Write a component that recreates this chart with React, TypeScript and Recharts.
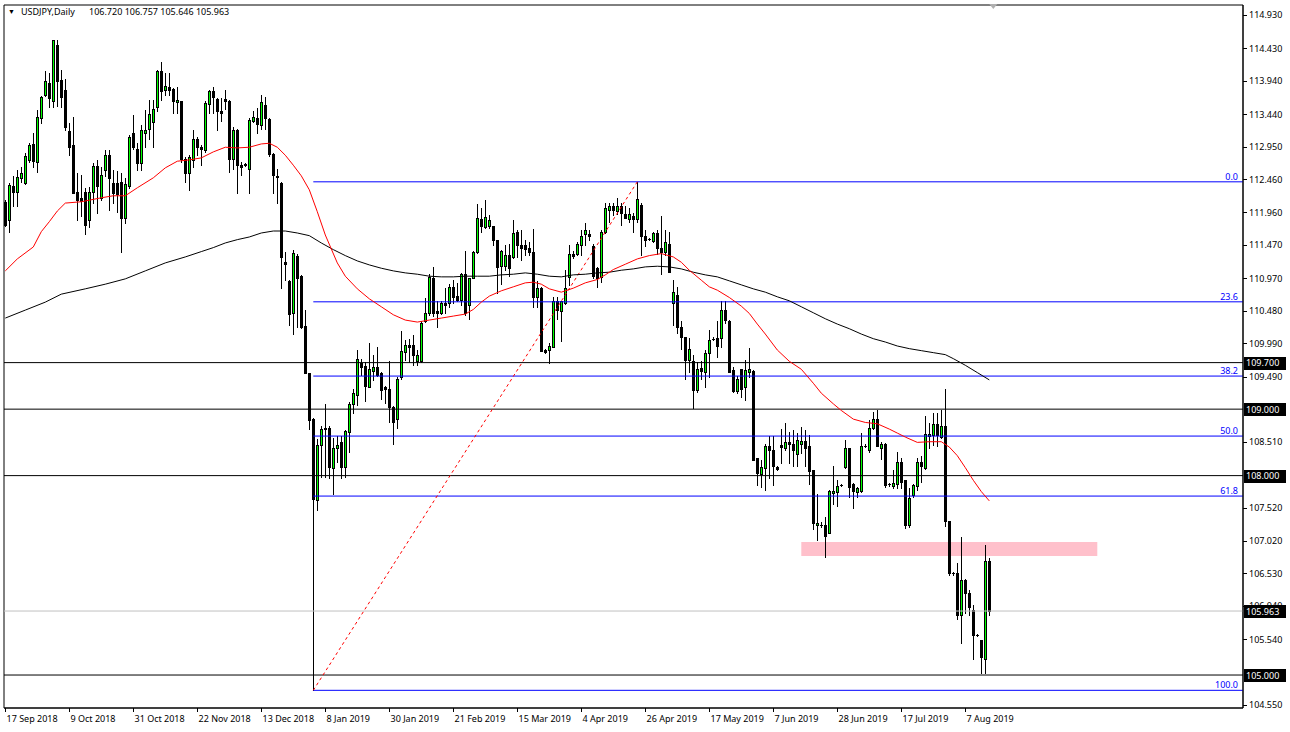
import React from 'react';
import { ComposedChart, Bar, Line, XAxis, YAxis, ReferenceLine, ReferenceArea, ReferenceDot } from 'recharts';

const FONT = "'Noto Sans', 'Liberation Sans', sans-serif";

// ---- daily candles (USDJPY) ----
const opens = [
  112.12,111.85,112.36,112.27,112.47,112.40,112.75,112.99,112.72,113.38,
  113.72,113.90,113.63,114.48,113.95,113.80,113.19,112.97,112.27,112.18,
  112.26,111.85,112.27,112.66,112.17,112.60,112.82,112.40,112.40,112.41,
  111.87,112.35,113.16,112.92,112.71,113.16,113.21,113.32,113.55,114.08,
  113.80,113.85,113.81,113.62,113.63,112.76,112.55,112.75,113.06,112.94,
  112.90,113.59,113.78,113.66,113.49,113.67,113.64,112.76,113.20,112.67,
  112.69,112.61,113.34,113.38,113.28,113.58,113.36,112.84,112.51,112.40,
  111.22,110.93,110.45,111.30,111.00,110.25,109.54,108.85,107.63,108.46,
  108.72,108.71,108.11,108.41,108.51,108.13,108.66,109.08,109.21,109.70,
  109.65,109.34,109.58,109.63,109.54,109.33,109.30,109.03,108.85,109.49,
  109.86,109.96,109.96,109.73,109.73,110.33,110.44,110.98,110.48,110.44,
  110.59,110.59,110.84,110.70,110.64,111.04,110.57,110.98,111.37,111.86,
  111.74,111.75,111.75,111.54,111.15,111.15,111.32,111.29,111.67,111.47,
  111.47,111.43,111.36,110.68,110.82,109.89,109.89,109.94,110.62,110.47,
  110.59,110.99,111.34,111.33,111.47,111.63,111.64,111.45,111.12,110.99,
  111.66,112.00,112.05,111.98,112.06,111.93,111.86,111.91,111.86,112.07,
  111.61,111.56,111.53,111.65,111.42,111.37,111.49,110.59,110.72,110.23,
  110.08,109.74,109.72,109.29,109.62,109.56,109.84,110.06,110.07,110.07,
  110.49,110.33,109.59,109.28,109.60,109.34,109.56,109.58,108.26,108.03,
  108.12,108.45,108.38,108.13,108.46,108.41,108.51,108.48,108.32,108.47,
  108.52,108.44,108.08,107.25,107.26,107.26,107.14,107.74,107.76,107.86,
  108.13,108.41,107.87,107.76,107.77,108.45,108.38,108.71,108.85,108.41,
  108.48,107.87,107.85,107.88,108.21,107.94,107.26,107.71,107.85,108.20,
  108.11,108.60,108.61,108.78,108.58,108.75,107.31,106.53,106.53,105.90,
  106.43,106.23,105.98,105.60,105.53,105.24,106.72,
];
const highs = [
  112.15,112.40,112.50,112.60,112.65,112.86,113.00,113.16,113.50,113.71,
  114.09,114.05,114.56,114.56,114.10,113.96,113.30,113.40,112.55,112.52,
  112.32,112.34,112.70,112.75,112.64,112.90,112.90,112.60,112.58,112.55,
  112.47,113.12,113.43,113.00,113.28,113.50,113.65,113.65,114.10,114.23,
  114.05,114.05,113.83,113.84,113.63,112.80,112.82,113.20,113.10,112.97,
  113.63,113.80,113.85,113.68,113.68,113.80,113.65,113.24,113.21,112.72,
  112.70,113.38,113.48,113.53,113.73,113.70,113.38,112.85,112.62,112.42,
  111.37,110.94,111.40,111.34,111.02,110.49,109.54,108.86,108.55,108.74,
  109.08,108.74,108.56,108.60,108.59,108.69,109.10,109.31,109.89,109.76,
  109.71,109.99,109.81,109.94,109.56,109.35,109.73,109.05,109.49,110.17,
  110.04,110.05,110.12,109.89,110.32,110.67,111.04,111.14,110.62,110.62,
  110.82,110.89,110.94,110.90,111.05,111.38,110.98,111.38,112.09,112.02,
  112.15,111.92,111.76,111.55,111.39,111.47,111.49,111.85,111.70,111.70,
  111.55,111.52,111.71,110.93,110.84,109.90,109.99,110.69,110.68,110.62,
  111.09,111.47,111.38,111.52,111.70,111.80,111.70,111.49,111.14,111.70,
  112.10,112.10,112.10,112.17,112.10,112.05,112.02,111.95,112.41,112.10,
  111.70,111.58,111.66,111.70,111.90,111.70,111.67,110.94,110.84,110.32,
  110.09,110.07,109.81,109.71,109.72,109.89,110.19,110.08,110.32,110.62,
  110.62,110.34,109.64,109.50,109.61,109.74,109.92,109.59,108.26,108.24,
  108.48,108.59,108.59,108.15,108.70,108.79,108.66,108.69,108.64,108.73,
  108.69,108.61,108.08,107.73,107.30,107.38,107.79,108.15,107.93,107.88,
  108.53,108.41,107.89,107.83,108.64,108.47,108.83,108.96,108.99,108.50,
  108.49,107.89,108.08,108.36,108.26,107.94,107.82,107.88,108.26,108.30,
  108.89,108.79,108.94,108.94,108.99,109.31,107.31,106.55,106.68,107.08,
  106.44,106.28,106.05,105.62,105.53,106.96,106.757,
];
const lows = [
  111.75,111.67,112.05,112.05,112.42,112.38,112.72,112.64,112.57,113.30,
  113.71,113.54,113.54,113.56,113.55,113.20,112.82,112.25,111.85,111.90,
  111.63,111.74,112.10,111.95,112.15,112.50,112.00,112.10,111.97,111.37,
  111.80,112.32,112.91,112.60,112.60,112.95,113.07,112.95,113.48,113.65,
  113.72,113.72,113.45,113.45,112.72,112.42,112.30,112.65,112.82,112.67,
  112.87,113.45,113.45,113.20,113.33,113.51,112.57,112.62,112.25,112.52,
  112.66,112.25,113.32,113.15,113.21,113.22,112.81,112.25,112.10,110.82,
  110.94,110.27,110.13,110.23,110.22,109.54,108.70,104.77,107.48,107.98,
  107.98,107.96,107.73,108.21,107.96,107.98,108.36,108.94,109.06,109.51,
  109.13,109.33,109.44,109.50,109.15,109.09,108.81,108.48,108.71,109.46,
  109.74,109.71,109.66,109.66,109.71,110.31,110.42,110.40,110.23,110.43,
  110.45,110.54,110.59,110.62,110.57,110.42,110.35,110.97,111.35,111.67,
  111.72,111.73,111.47,110.74,110.89,111.09,111.00,111.27,111.29,111.25,
  111.32,111.32,110.53,110.54,109.87,109.84,109.69,109.93,110.36,110.02,
  110.58,110.87,111.28,111.32,111.32,111.47,111.55,110.97,110.84,110.92,
  111.65,111.82,111.92,111.93,111.77,111.87,111.82,111.67,111.82,111.32,
  111.45,111.54,111.52,111.34,111.04,111.32,111.07,110.27,110.15,109.90,
  109.46,109.56,109.01,109.26,109.45,109.34,109.49,110.04,109.79,109.94,
  110.29,109.56,109.26,109.25,109.19,109.14,109.49,108.23,107.86,107.83,
  107.79,107.96,107.86,108.08,108.19,108.39,108.19,108.14,108.14,108.34,
  108.14,107.88,107.19,107.03,107.22,106.78,107.13,107.58,107.54,107.84,
  108.11,107.68,107.52,107.68,107.76,108.43,108.36,108.70,108.45,108.25,
  107.83,107.85,107.82,107.82,107.81,107.21,107.23,107.68,107.79,107.91,
  108.10,108.41,108.46,108.44,108.56,107.24,106.50,106.51,105.85,105.48,
  105.93,105.90,105.24,105.58,105.03,105.03,105.90,
];
const closes = [
  111.77,112.37,112.26,112.49,112.56,112.81,112.98,112.74,113.39,113.70,
  113.94,113.68,114.55,113.94,113.70,113.24,112.95,112.25,112.15,112.13,
  111.77,112.26,112.66,112.35,112.52,112.82,112.47,112.25,112.24,111.87,
  112.38,113.09,112.94,112.71,113.20,113.20,113.44,113.51,114.09,113.78,
  113.86,113.80,113.63,113.65,112.77,112.56,112.80,113.06,112.94,112.92,
  113.60,113.78,113.69,113.49,113.46,113.64,112.77,113.20,112.67,112.65,
  112.68,113.35,113.39,113.29,113.62,113.38,112.84,112.52,112.49,111.29,
  111.19,110.43,111.35,110.98,110.23,109.54,108.84,107.65,108.46,108.70,
  108.70,108.13,108.41,108.46,108.13,108.67,109.08,109.25,109.75,109.64,
  109.35,109.60,109.63,109.51,109.29,109.31,109.03,108.81,109.46,109.88,
  109.96,109.94,109.81,109.81,110.30,110.45,110.99,110.44,110.44,110.59,
  110.57,110.84,110.69,110.64,111.04,110.44,110.97,111.37,111.87,111.76,
  111.89,111.85,111.55,111.14,111.38,111.32,111.12,111.65,111.47,111.43,
  111.41,111.36,110.68,110.82,109.87,109.86,109.95,110.62,110.49,110.62,
  110.82,111.34,111.31,111.49,111.60,111.70,111.60,111.00,110.98,111.66,
  112.02,112.05,112.00,112.05,111.95,111.88,111.93,111.86,112.16,111.60,
  111.55,111.56,111.65,111.42,111.37,111.51,111.07,110.76,110.23,110.09,
  109.74,109.90,109.29,109.60,109.58,109.84,110.04,110.06,109.95,110.49,
  110.34,109.56,109.28,109.46,109.31,109.59,109.61,108.24,108.04,108.13,
  108.45,108.38,108.14,108.10,108.43,108.51,108.48,108.38,108.54,108.52,
  108.41,108.07,107.28,107.28,107.26,107.09,107.77,107.77,107.84,107.86,
  108.41,107.83,107.77,107.81,108.45,108.45,108.71,108.85,108.45,108.48,
  107.86,107.87,107.89,108.21,107.91,107.26,107.67,107.86,108.21,108.15,
  108.63,108.63,108.78,108.61,108.75,107.31,106.53,106.53,105.90,106.43,
  106.23,106.03,105.60,105.60,105.27,106.71,105.963,
];

// ---- moving averages (bar index, price) ----
const maFastIdx = [0,3,7,9,11,13,15,19,24,27,30,33,37,40,43,46,49,52,55,58,61,64,66,68,70,72,74,76,78,80,83,85,88,91,94,97,100,103,106,109,112,115,117,119,121,124,127,130,132,134,136,139,142,145,148,150,152,155,158,161,164,167,169,171,174,176,178,181,184,186,188,190,193,196,199,202,204,207,209,212,215,218,221,223,225,228,231,234,236,238,240,242,244,246];
const maFastVal = [111.08,111.26,111.44,111.67,111.82,111.98,112.10,112.12,112.18,112.21,112.21,112.33,112.48,112.63,112.73,112.75,112.78,112.87,112.94,112.93,112.94,112.99,113.00,112.94,112.82,112.67,112.51,112.30,111.97,111.62,111.20,111.00,110.81,110.66,110.54,110.42,110.34,110.31,110.34,110.37,110.40,110.43,110.50,110.61,110.70,110.78,110.84,110.90,110.91,110.88,110.81,110.76,110.82,110.90,110.95,111.02,111.10,111.18,111.26,111.31,111.34,111.29,111.21,111.09,110.94,110.84,110.79,110.68,110.55,110.44,110.28,110.13,109.89,109.72,109.60,109.39,109.24,109.08,108.98,108.85,108.80,108.78,108.70,108.64,108.58,108.50,108.51,108.51,108.43,108.30,108.12,107.93,107.76,107.62];
const maSlowIdx = [0,5,10,14,20,25,30,35,40,45,49,52,55,58,61,64,67,70,73,76,79,82,85,88,91,94,97,100,103,106,109,112,115,118,121,124,127,130,133,136,139,142,145,148,151,154,157,160,163,166,169,172,175,178,181,184,187,190,193,196,199,202,205,208,211,214,217,220,223,226,229,232,235,237,240,243,246];
const maSlowVal = [110.37,110.49,110.61,110.73,110.81,110.88,110.96,111.08,111.20,111.29,111.37,111.43,111.50,111.55,111.59,111.65,111.68,111.68,111.65,111.61,111.50,111.40,111.31,111.23,111.17,111.12,111.08,111.05,111.03,111.00,110.99,110.99,111.00,111.00,111.00,111.02,111.03,111.05,111.03,111.00,110.99,111.02,111.03,111.05,111.06,111.09,111.11,111.14,111.15,111.14,111.11,111.06,111.02,110.99,110.93,110.87,110.81,110.76,110.69,110.63,110.54,110.45,110.36,110.28,110.21,110.13,110.06,110.01,109.95,109.91,109.88,109.85,109.82,109.76,109.66,109.55,109.44];

// ---- axes ----
const dateTickIdx = [0,16,32,48,64,80,96,112,128,144,160,176,192,208,224,240];
const dateLabels = ['17 Sep 2018','9 Oct 2018','31 Oct 2018','22 Nov 2018','13 Dec 2018','8 Jan 2019','30 Jan 2019','21 Feb 2019','15 Mar 2019','4 Apr 2019','26 Apr 2019','17 May 2019','7 Jun 2019','28 Jun 2019','17 Jul 2019','7 Aug 2019'];
const priceTicks = [114.93,114.43,113.94,113.44,112.95,112.46,111.96,111.47,110.97,110.48,109.99,109.49,108.51,107.52,107.02,106.53,106.04,105.54,104.55];
const levelLines = [109.7, 109.0, 108.0, 105.0];
const lastPrice = 105.963;

// ---- drawing objects ----
const fibLevels = [0.0, 23.6, 38.2, 50.0, 61.8, 100.0];
const fibLowIdx = 77;
const fibHighIdx = 158;
const fibLow = 104.77;
const fibHigh = 112.42;
const zoneIdx = [199, 273];
const zonePrice = [106.79, 107.0];

const X_MIN = -0.325;
const X_MAX = 309.425;
const Y_MIN = 104.504;
const Y_MAX = 115.08;

const candleData = opens.map((o, i) => ({ i, open: o, high: highs[i], low: lows[i], close: closes[i] }));
const maFastData = maFastIdx.map((i, k) => ({ i, v: maFastVal[k] }));
const maSlowData = maSlowIdx.map((i, k) => ({ i, v: maSlowVal[k] }));
const fibPrices = fibLevels.map((l) => fibHigh - ((fibHigh - fibLow) * l) / 100);
const boxed = [...levelLines, lastPrice];

const CandleShape = (props: any) => {
  const { x, y, width, height, payload } = props;
  if (x == null || y == null || !payload) return null;
  const { open, close, high, low } = payload;
  const yTop = Math.min(y, y + height);
  const yBot = Math.max(y, y + height);
  const span = high - low;
  const py = (p: number) => (span > 0 ? yTop + ((high - p) / span) * (yBot - yTop) : yTop);
  const cx = Math.floor(x + width / 2) + 0.5;
  const top = Math.round(yTop);
  const bot = Math.round(yBot);
  const oY = Math.round(py(open));
  const cY = Math.round(py(close));
  const bT = Math.min(oY, cY);
  const bB = Math.max(oY, cY);
  const bull = close > open;
  return (
    <g shapeRendering="crispEdges">
      <line x1={cx} x2={cx} y1={top} y2={bot + 1} stroke="#000" strokeWidth={1} />
      {bB - bT < 1 ? (
        <line x1={cx - 1.5} x2={cx + 1.5} y1={bT + 0.5} y2={bT + 0.5} stroke="#000" strokeWidth={1} />
      ) : bull ? (
        <rect x={cx - 1} y={bT + 0.5} width={2} height={bB - bT} fill="#00ff00" stroke="#000" strokeWidth={1} />
      ) : (
        <rect x={cx - 1.5} y={bT} width={3} height={bB - bT + 1} fill="#000" />
      )}
    </g>
  );
};

const DateTick = (props: any) => {
  const { x, y, payload } = props;
  const k = dateTickIdx.indexOf(payload.value);
  if (k < 0) return null;
  const px = Math.floor(x) + 0.5;
  return (
    <g>
      <line x1={px} x2={px} y1={y} y2={y + 4} stroke="#000" strokeWidth={1} shapeRendering="crispEdges" />
      <text x={px + 1} y={y + 14} fontFamily={FONT} fontSize={9} fill="#000" textAnchor="start">
        {dateLabels[k]}
      </text>
    </g>
  );
};

const PriceTick = (props: any) => {
  const { x, y, payload } = props;
  const v = payload.value;
  const isBox = boxed.some((b) => Math.abs(b - v) < 1e-6);
  const yy = Math.round(y) + 0.5;
  if (isBox) {
    return (
      <g>
        <rect x={x + 1} y={Math.round(y) - 6} width={42} height={13} fill="#000" />
        <text x={x + 3} y={y + 3.5} fontFamily={FONT} fontSize={9} fill="#fff" textAnchor="start">
          {v.toFixed(3)}
        </text>
      </g>
    );
  }
  return (
    <g>
      <line x1={x} x2={x + 4} y1={yy} y2={yy} stroke="#000" strokeWidth={1} shapeRendering="crispEdges" />
      <text x={x + 6} y={y + 3.5} fontFamily={FONT} fontSize={9} fill="#000" textAnchor="start">
        {v.toFixed(3)}
      </text>
    </g>
  );
};

const FibLabel = (text: string) => (p: any) => (
  <text x={p.cx - 3} y={p.cy - 2} fontFamily={FONT} fontSize={9} fill="#0000ff" textAnchor="end">
    {text}
  </text>
);

const ShiftMarker = (p: any) => (
  <polygon points={`${p.cx - 4},${p.cy - 1} ${p.cx + 4},${p.cy - 1} ${p.cx},${p.cy + 4}`} fill="#b0b0b0" />
);

export default function App() {
  return (
    <div style={{ position: 'absolute', left: 0, top: 0, width: 1290, height: 732, background: '#fff', overflow: 'hidden' }}>
      <ComposedChart
        width={1290}
        height={732}
        data={candleData}
        margin={{ top: 5, right: 0, bottom: 0, left: 4 }}
      >
        <XAxis
          type="number"
          dataKey="i"
          domain={[X_MIN, X_MAX]}
          allowDataOverflow
          ticks={dateTickIdx}
          interval={0}
          tick={(p: any) => <DateTick {...p} />}
          tickLine={false}
          tickSize={0}
          tickMargin={0}
          axisLine={{ stroke: '#000' }}
          height={24}
        />
        <YAxis
          orientation="right"
          type="number"
          domain={[Y_MIN, Y_MAX]}
          allowDataOverflow
          ticks={[...priceTicks, ...boxed]}
          interval={0}
          tick={(p: any) => <PriceTick {...p} />}
          tickLine={false}
          tickSize={0}
          tickMargin={0}
          axisLine={{ stroke: '#000' }}
          width={47}
        />
        <ReferenceArea x1={X_MIN} x2={X_MAX} y1={Y_MIN} y2={Y_MAX} fill="none" stroke="#000" strokeWidth={1} />
        <ReferenceArea x1={zoneIdx[0]} x2={zoneIdx[1]} y1={zonePrice[0]} y2={zonePrice[1]} fill="#ffc0cb" fillOpacity={1} stroke="none" />
        <ReferenceLine y={lastPrice} stroke="#c0c0c0" strokeWidth={1} />
        {levelLines.map((v) => (
          <ReferenceLine key={'l' + v} y={v} stroke="#000" strokeWidth={1} />
        ))}
        {fibPrices.map((p, k) => (
          <ReferenceLine
            key={'f' + k}
            segment={[{ x: fibLowIdx, y: p }, { x: X_MAX, y: p }]}
            stroke="#0000ff"
            strokeWidth={1}
          />
        ))}
        <ReferenceLine
          segment={[{ x: fibLowIdx, y: fibLow }, { x: fibHighIdx, y: fibHigh }]}
          stroke="#ff0000"
          strokeWidth={1}
          strokeDasharray="3 3"
        />
        <Line data={maSlowData} dataKey="v" stroke="#000" strokeWidth={1} dot={false} isAnimationActive={false} />
        <Line data={maFastData} dataKey="v" stroke="#ff0000" strokeWidth={1} dot={false} isAnimationActive={false} />
        <Bar dataKey={(d: any) => [d.low, d.high]} barSize={4} shape={(p: any) => <CandleShape {...p} />} isAnimationActive={false} />
        {fibPrices.map((p, k) => (
          <ReferenceDot key={'fl' + k} x={X_MAX - 0.5} y={p} r={0} shape={FibLabel(fibLevels[k].toFixed(1))} />
        ))}
        <ReferenceDot x={247} y={Y_MAX} r={0} shape={ShiftMarker} ifOverflow="visible" />
      </ComposedChart>
      <div style={{ position: 'absolute', left: 8, top: 5, fontFamily: FONT, fontSize: 9, lineHeight: '14px', color: '#000', whiteSpace: 'pre' }}>
        <span style={{ fontSize: 7, position: 'relative', top: -1 }}>▼</span>
        <span style={{ position: 'absolute', left: 13 }}>USDJPY,Daily</span>
        <span style={{ position: 'absolute', left: 81 }}>106.720 106.757 105.646 105.963</span>
      </div>
    </div>
  );
}
